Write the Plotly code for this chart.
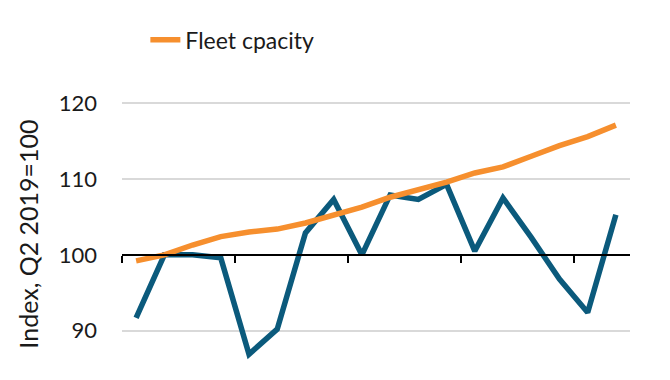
import plotly.graph_objects as go

quarters = ["Q1 2019", "Q2 2019", "Q3 2019", "Q4 2019",
            "Q1 2020", "Q2 2020", "Q3 2020", "Q4 2020",
            "Q1 2021", "Q2 2021", "Q3 2021", "Q4 2021",
            "Q1 2022", "Q2 2022", "Q3 2022", "Q4 2022",
            "Q1 2023", "Q2 2023"]
demand = [91.7, 100.0, 100.0, 99.6, 86.9, 90.2, 102.9, 107.3, 100.0,
          107.9, 107.3, 109.3, 100.5, 107.5, 102.3, 96.8, 92.4, 105.3]
fleet_capacity = [99.2, 100.0, 101.3, 102.4, 103.0, 103.4, 104.2, 105.3, 106.3,
                  107.6, 108.6, 109.6, 110.8, 111.6, 113.0, 114.4, 115.6, 117.1]
y_ticks = [90, 100, 110, 120]
year_boundaries = [-0.5, 3.5, 7.5, 11.5, 15.5]

x = list(range(len(quarters)))
y_lo, y_hi = 83.5, 122.0

fig = go.Figure()
fig.add_trace(go.Scatter(x=x, y=demand, mode="lines", name="Demand",
                         customdata=quarters, showlegend=False,
                         line=dict(color="#0b5a7c", width=5.5)))
fig.add_trace(go.Scatter(x=x, y=fleet_capacity, mode="lines", name="Fleet cpacity",
                         customdata=quarters,
                         line=dict(color="#f68f2e", width=5.5)))

fig.update_layout(
    width=670, height=380,
    margin=dict(l=114, r=48, t=80, b=8, autoexpand=False),
    plot_bgcolor="white", paper_bgcolor="white",
    font=dict(family="Lato, Open Sans, sans-serif", size=23, color="#1a1a1a"),
    legend=dict(orientation="h", x=0.046, xanchor="left", y=1.165, yanchor="middle",
                font=dict(size=23), bgcolor="rgba(0,0,0,0)"),
    xaxis=dict(range=[-0.5, 17.5], tickmode="array", tickvals=year_boundaries,
               showticklabels=False, ticks="outside", ticklen=7, tickwidth=2,
               tickcolor="black", showline=True, linecolor="black", linewidth=2,
               showgrid=False, zeroline=False, anchor="free", automargin=False,
               position=(100 - y_lo) / (y_hi - y_lo)),
    yaxis=dict(range=[y_lo, y_hi], tickmode="array", tickvals=y_ticks,
               showgrid=True, gridcolor="#d9d9d9", gridwidth=2, zeroline=False,
               showline=False, ticks="", ticklabelstandoff=24, automargin=False,
               tickfont=dict(size=22),
               title=dict(text="Index, Q2 2019=100", standoff=12, font=dict(size=25))),
)
fig.write_html("out.html")
